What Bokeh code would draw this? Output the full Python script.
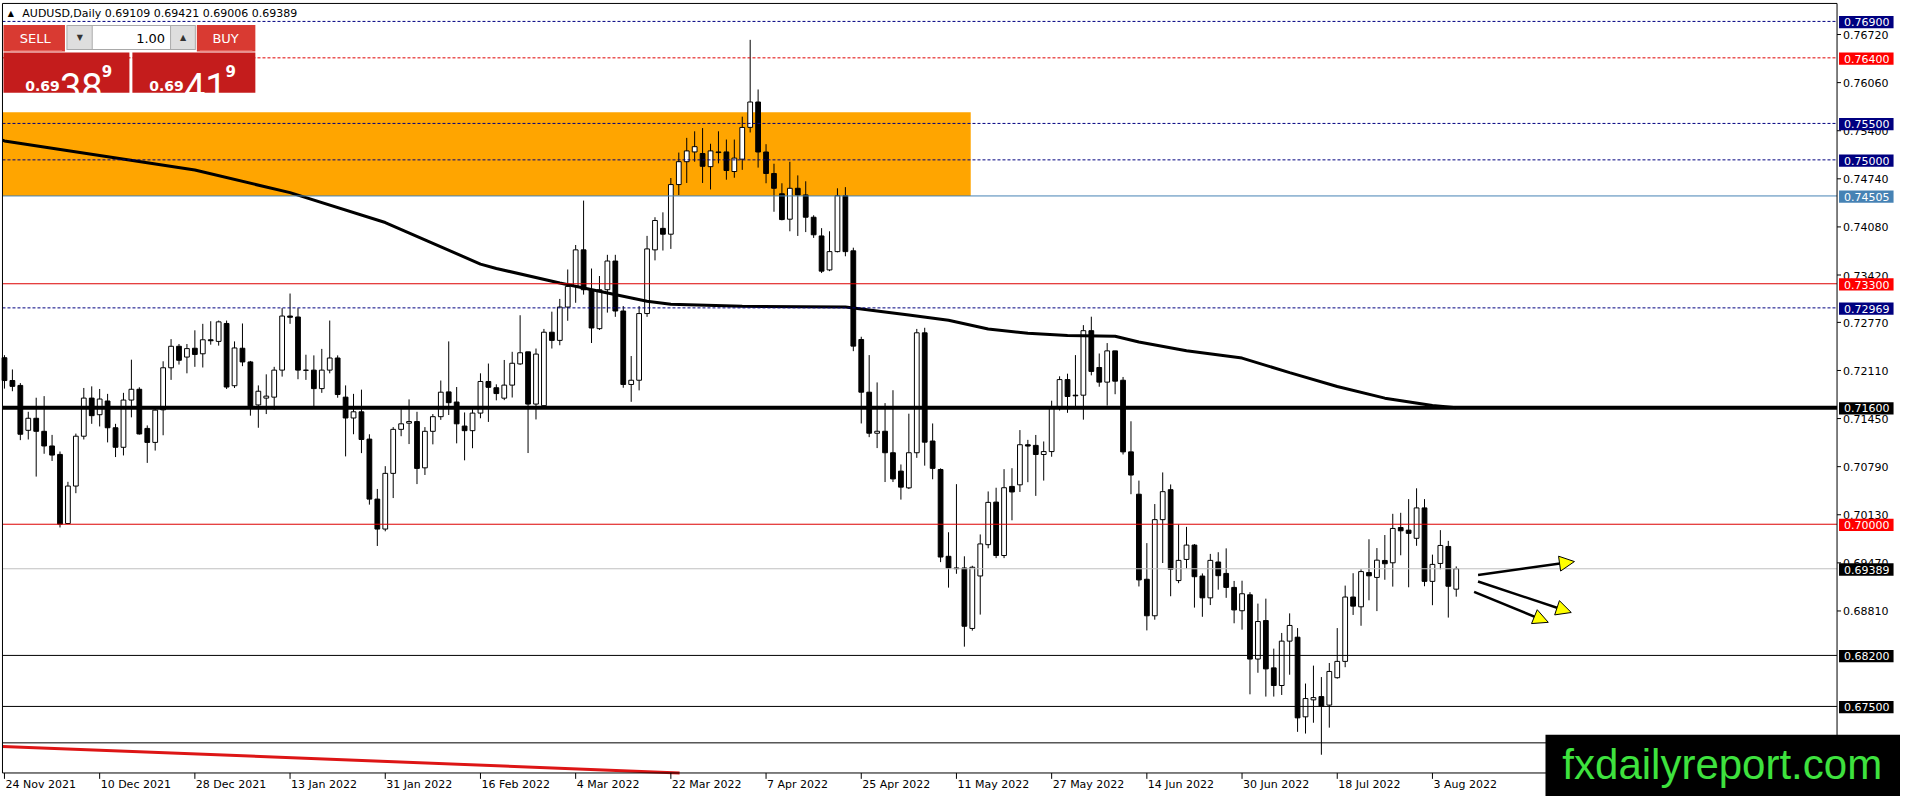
from bokeh.plotting import figure
from bokeh.models import Range1d, Arrow, NormalHead, ColumnDataSource
from bokeh.core.properties import value
from bokeh.embed import file_html
from bokeh.resources import INLINE

# ---------------- data ----------------
header_text = "AUDUSD,Daily 0.69109 0.69421 0.69006 0.69389"

opens = [0.72285,0.71972,0.71905,0.71289,0.71454,0.71275,0.71074,0.70958,0.70010,0.70524,
         0.71208,0.71731,0.71503,0.71691,0.71324,0.71056,0.71704,0.71852,0.71315,0.71123,
         0.71570,0.72147,0.72442,0.72294,0.72415,0.72339,0.72531,0.72509,0.72755,0.71901,
         0.72415,0.72227,0.71637,0.71731,0.71744,0.72115,0.72857,0.72844,0.72115,0.72115,
         0.71861,0.72115,0.72281,0.71744,0.71458,0.71543,0.71168,0.70345,0.69934,0.70698,
         0.71302,0.71387,0.71409,0.70774,0.71275,0.71476,0.71816,0.71677,0.71347,0.71284,
         0.71525,0.71959,0.71873,0.71730,0.71909,0.72200,0.72366,0.71649,0.71627,0.72635,
         0.72523,0.72980,0.73263,0.73765,0.73218,0.72684,0.73218,0.73612,0.72926,0.71918,
         0.71976,0.72891,0.73765,0.74060,0.73980,0.74661,0.74975,0.75109,0.75087,0.74907,
         0.75109,0.75109,0.74840,0.75010,0.75446,0.75794,0.75108,0.74813,0.74535,0.74186,
         0.74610,0.74519,0.74213,0.73956,0.73490,0.73741,0.74508,0.73752,0.72535,0.71812,
         0.71249,0.71276,0.70981,0.70729,0.70499,0.70981,0.72627,0.71142,0.70751,0.69560,
         0.69400,0.69400,0.68570,0.69290,0.69720,0.70304,0.69571,0.70519,0.70541,0.71091,
         0.71082,0.70957,0.70997,0.71605,0.71985,0.71771,0.71771,0.72656,0.72151,0.71950,
         0.72379,0.71976,0.70993,0.70412,0.69245,0.68744,0.70063,0.70474,0.69227,0.69517,
         0.69714,0.69289,0.68990,0.69482,0.69325,0.69133,0.68813,0.69032,0.68150,0.68678,
         0.68029,0.67787,0.68396,0.68450,0.67357,0.67590,0.67635,0.67518,0.67894,0.68118,
         0.69001,0.68867,0.69337,0.69270,0.69503,0.69471,0.69955,0.69919,0.69807,0.70224,
         0.69216,0.69462,0.69695,0.69109]
highs = [0.72320,0.72124,0.71937,0.71543,0.71736,0.71758,0.71226,0.70998,0.70582,0.71244,
         0.71870,0.71892,0.71856,0.71789,0.71378,0.71803,0.72258,0.71879,0.71356,0.71615,
         0.72236,0.72540,0.72473,0.72473,0.72661,0.72750,0.72786,0.72795,0.72795,0.72509,
         0.72755,0.72241,0.71905,0.72057,0.72160,0.72965,0.73166,0.72965,0.72326,0.72317,
         0.72406,0.72795,0.72317,0.71905,0.71789,0.71847,0.71235,0.70484,0.70797,0.71333,
         0.71579,0.71713,0.71543,0.71333,0.71512,0.71972,0.72509,0.71883,0.71534,0.71579,
         0.72071,0.72205,0.71920,0.72254,0.72366,0.72868,0.72366,0.72411,0.72680,0.72917,
         0.73092,0.73496,0.73832,0.74441,0.73509,0.73406,0.73697,0.73697,0.72994,0.72308,
         0.72994,0.73957,0.74213,0.74280,0.74751,0.75100,0.75302,0.75392,0.75436,0.75221,
         0.75392,0.75279,0.75279,0.75593,0.76647,0.75966,0.75215,0.74947,0.74679,0.74974,
         0.74787,0.74706,0.74240,0.74063,0.74020,0.74610,0.74626,0.73795,0.72573,0.72321,
         0.71946,0.71662,0.71839,0.70820,0.71517,0.72680,0.72696,0.71383,0.70767,0.69890,
         0.70550,0.69560,0.69430,0.69860,0.70450,0.70501,0.70756,0.70769,0.71292,0.71158,
         0.71225,0.71136,0.71695,0.72030,0.72066,0.72321,0.72732,0.72848,0.72343,0.72486,
         0.72379,0.72021,0.71413,0.70599,0.69741,0.70277,0.70711,0.70546,0.69996,0.69964,
         0.69728,0.69325,0.69593,0.69616,0.69669,0.69222,0.69225,0.69068,0.68911,0.68979,
         0.68293,0.68508,0.68777,0.68575,0.67814,0.68060,0.67903,0.68096,0.68575,0.69158,
         0.69328,0.69382,0.69794,0.69673,0.69852,0.70143,0.70157,0.70345,0.70493,0.70345,
         0.69583,0.69919,0.69772,0.69421]
lows = [0.71861,0.71825,0.71154,0.71163,0.70654,0.70967,0.70868,0.69956,0.70001,0.70426,
        0.71163,0.71378,0.71342,0.71123,0.70922,0.70944,0.71467,0.71230,0.70842,0.71011,
        0.71221,0.71981,0.72191,0.72071,0.72160,0.72151,0.72464,0.72451,0.71856,0.71870,
        0.72169,0.71490,0.71324,0.71512,0.71570,0.72026,0.72750,0.71990,0.71981,0.71622,
        0.71803,0.72071,0.71736,0.70931,0.71235,0.70976,0.70269,0.69702,0.69903,0.70359,
        0.71208,0.71100,0.70551,0.70676,0.71096,0.71432,0.71499,0.71110,0.70877,0.71043,
        0.71454,0.71404,0.71700,0.71703,0.71739,0.72187,0.70977,0.71438,0.71627,0.72411,
        0.72456,0.72792,0.73039,0.73151,0.72487,0.72666,0.72904,0.72846,0.71873,0.71680,
        0.71837,0.72846,0.73621,0.73756,0.73778,0.74518,0.74683,0.74975,0.74683,0.74594,
        0.74952,0.74728,0.74755,0.74863,0.75376,0.74894,0.74679,0.74288,0.74170,0.74020,
        0.73956,0.74009,0.73929,0.73447,0.73473,0.73731,0.73677,0.72375,0.71383,0.71195,
        0.71045,0.70579,0.70579,0.70338,0.70483,0.70911,0.70804,0.70617,0.69480,0.69130,
        0.69320,0.68320,0.68540,0.68760,0.69670,0.69535,0.69535,0.70054,0.70443,0.70577,
        0.70389,0.70599,0.70926,0.71561,0.71529,0.71605,0.71435,0.72043,0.71887,0.71628,
        0.71784,0.70957,0.70412,0.69146,0.68543,0.68690,0.69468,0.69012,0.69191,0.69392,
        0.68856,0.68730,0.68891,0.69102,0.68990,0.68641,0.68553,0.67666,0.67962,0.67635,
        0.67635,0.67657,0.67935,0.67151,0.67128,0.67276,0.66837,0.67209,0.67881,0.68038,
        0.68755,0.68607,0.68956,0.68808,0.69238,0.69144,0.69574,0.69135,0.69704,0.69149,
        0.68889,0.69382,0.68719,0.69006]
closes = [0.71972,0.71892,0.71235,0.71454,0.71275,0.71074,0.70949,0.70001,0.70524,0.71208,
          0.71731,0.71490,0.71718,0.71324,0.71056,0.71704,0.71852,0.71239,0.71123,0.71566,
          0.72147,0.72442,0.72250,0.72410,0.72330,0.72531,0.72518,0.72777,0.71883,0.72419,
          0.72227,0.71624,0.71825,0.71758,0.72115,0.72857,0.72840,0.72115,0.72112,0.71861,
          0.72115,0.72281,0.71780,0.71458,0.71543,0.71163,0.70345,0.69934,0.70698,0.71302,
          0.71378,0.71409,0.70766,0.71275,0.71476,0.71812,0.71668,0.71378,0.71284,0.71525,
          0.71959,0.71879,0.71793,0.71909,0.72209,0.72353,0.71649,0.72335,0.72635,0.72523,
          0.72980,0.73263,0.73765,0.73218,0.72693,0.73218,0.73612,0.72926,0.71918,0.71976,
          0.72891,0.73778,0.74168,0.73980,0.74661,0.74975,0.75123,0.75181,0.74912,0.75123,
          0.75100,0.74854,0.75024,0.75445,0.75794,0.75108,0.74813,0.74610,0.74181,0.74610,
          0.74519,0.74213,0.73972,0.73473,0.73741,0.74508,0.73741,0.72444,0.71812,0.71249,
          0.71276,0.70981,0.70622,0.70509,0.70981,0.72627,0.71126,0.70767,0.69550,0.69400,
          0.69390,0.68600,0.69410,0.69730,0.70300,0.69571,0.70501,0.70443,0.71091,0.71073,
          0.70957,0.70997,0.71605,0.71985,0.71753,0.71762,0.72656,0.72097,0.71950,0.72379,
          0.71963,0.70993,0.70675,0.69236,0.68744,0.70063,0.70447,0.69383,0.69504,0.69714,
          0.69280,0.68990,0.69504,0.69294,0.69133,0.68824,0.69046,0.68150,0.68665,0.68015,
          0.67787,0.68396,0.68611,0.67343,0.67608,0.67621,0.67500,0.67980,0.68118,0.69001,
          0.68876,0.69350,0.69292,0.69507,0.69458,0.69942,0.69910,0.69875,0.70224,0.69216,
          0.69449,0.69709,0.69149,0.69389]

date_labels = ["24 Nov 2021", "10 Dec 2021", "28 Dec 2021", "13 Jan 2022", "31 Jan 2022",
               "16 Feb 2022", "4 Mar 2022", "22 Mar 2022", "7 Apr 2022", "25 Apr 2022",
               "11 May 2022", "27 May 2022", "14 Jun 2022", "30 Jun 2022", "18 Jul 2022",
               "3 Aug 2022"]
date_tick_bars = [0, 12, 24, 36, 48, 60, 72, 84, 96, 108, 120, 132, 144, 156, 168, 180]

price_ticks = [0.76720, 0.76060, 0.75400, 0.74740, 0.74080, 0.73420, 0.72770, 0.72110,
               0.71450, 0.70790, 0.70130, 0.69470, 0.68810]

ma_bars = [-0.25, 0, 12, 24, 36, 48, 60, 62, 70, 81, 84, 93, 106, 114, 119, 124, 129, 134,
           140, 143, 149, 156, 162, 168, 174, 180, 183]
ma_values = [0.7527, 0.7526, 0.7506, 0.7486, 0.7455, 0.7414, 0.7357, 0.7351, 0.7331, 0.7306,
             0.7302, 0.7299, 0.7298, 0.7287, 0.7280, 0.7268, 0.7262, 0.7259, 0.7258, 0.7250,
             0.7238, 0.7228, 0.7208, 0.7189, 0.7173, 0.7163, 0.7160]

trend_bars = [-0.25, 85.1]
trend_values = [0.66951, 0.66587]

zone_bars = [-0.25, 121.8]
zone_prices = [0.74505, 0.75655]

level_values = [0.76900, 0.76400, 0.75500, 0.75000, 0.74505, 0.73300, 0.72969,
                0.71600, 0.70000, 0.69389, 0.68200, 0.67500, 0.67000]
level_kinds = ["navy", "reddash", "navy", "navy", "steel", "red", "navy",
               "thick", "red", "bid", "black", "black", "black"]

arrow_x0 = [185.75, 185.75, 185.25]
arrow_y0 = [0.69304, 0.69214, 0.69071]
arrow_x1 = [197.9, 197.5, 194.6]
arrow_y1 = [0.69488, 0.68789, 0.68654]

sell_quote = ["0.69", "38", "9"]
buy_quote = ["0.69", "41", "9"]
lot_size = "1.00"
watermark = "fxdailyreport.com"

# ---------------- geometry helpers (reference pixels -> data) ----------------
def bx(px):
    return (px - 4.0) / 8.0

def py(pyx):
    return 0.764 - (pyx - 58.5) * 0.00013452

PX = 0.00013452        # price per reference pixel
AX = 1852              # reference x of the price axis
BOT = 788              # reference y of the time axis

p = figure(width=1900, height=796,
           x_range=Range1d(bx(0), bx(1916)), y_range=Range1d(py(812), py(0)),
           output_backend="svg", toolbar_location=None,
           x_axis_location=None, y_axis_location=None, min_border=0,
           background_fill_color="white", border_fill_color="white")
p.outline_line_color = None
p.grid.visible = False

FONT = "DejaVu Sans"

def seg(x0, y0, x1, y1, color="black", width=1, dash="solid"):
    p.segment(x0=x0, y0=y0, x1=x1, y1=y1, line_color=color, line_width=width, line_dash=dash)

def txt(x, y, s, size, color="black", align="left", baseline="middle", font=FONT, style="normal"):
    p.text(x=[bx(x)], y=[py(y)], text=[s], text_font=value(font), text_font_size=value(size),
           text_color=color, text_align=align, text_baseline=baseline, text_font_style=style)

# orange zone
p.quad(left=[zone_bars[0]], right=[zone_bars[1]], bottom=[zone_prices[0]], top=[zone_prices[1]],
       fill_color="#ffa500", line_color=None)

# candles
xs = list(range(len(opens)))
bull = [c > o for o, c in zip(opens, closes)]
src = ColumnDataSource(dict(
    x=xs, high=highs, low=lows,
    top=[max(o, c) for o, c in zip(opens, closes)],
    bottom=[min(o, c) for o, c in zip(opens, closes)],
    fill=["white" if b else "black" for b in bull]))
p.segment(x0="x", y0="high", x1="x", y1="low", source=src, line_color="black", line_width=1)
p.vbar(x="x", width=0.6, top="top", bottom="bottom", source=src,
       fill_color="fill", line_color="black", line_width=1)

# moving average and trend line
p.line(ma_bars, ma_values, line_color="black", line_width=3)
p.line(trend_bars, trend_values, line_color="#dd1515", line_width=3)

# horizontal levels
styles = {
    "navy": dict(color="#000080", width=1, dash="3 2"),
    "reddash": dict(color="#e00000", width=1, dash="3 2"),
    "steel": dict(color="#4682b4", width=1, dash="solid"),
    "red": dict(color="#dd0000", width=1, dash="solid"),
    "thick": dict(color="black", width=4, dash="solid"),
    "bid": dict(color="#c0c0c0", width=1, dash="solid"),
    "black": dict(color="black", width=1, dash="solid"),
}
box_colors = {"navy": "#000080", "reddash": "#ff0000", "steel": "#4682b4", "red": "#ff0000",
              "thick": "black", "bid": "black", "black": "black"}
for lv, kind in zip(level_values, level_kinds):
    st = styles[kind]
    seg([bx(2)], [lv], [bx(AX)], [lv], st["color"], st["width"], st["dash"])

# arrows
asrc = ColumnDataSource(dict(x0=arrow_x0, y0=arrow_y0, x1=arrow_x1, y1=arrow_y1))
p.add_layout(Arrow(x_start="x0", y_start="y0", x_end="x1", y_end="y1", source=asrc,
                   line_color="black", line_width=2.5,
                   end=NormalHead(size=15, fill_color="#ffff00", line_color="black",
                                  line_width=1)))

# trading panel
panel = [
    (3, 25, 65, 52, "#d93a32"),
    (198, 25, 257, 52, "#d93a32"),
    (66.5, 25, 197, 50.5, "#a9a9a9"),
    (67.5, 26, 92, 49.5, "#dedede"),
    (93, 26, 171, 49.5, "#ffffff"),
    (172, 26, 196, 49.5, "#dedede"),
    (3, 53, 130, 94, "#c41c1c"),
    (133, 53, 257, 94, "#c41c1c"),
    (10, 51, 62, 52, "#f08a84"),
    (201, 51, 254, 52, "#f08a84"),
]
p.quad(left=[bx(a[0]) for a in panel], right=[bx(a[2]) for a in panel],
       top=[py(a[1]) for a in panel], bottom=[py(a[3]) for a in panel],
       fill_color=[a[4] for a in panel], line_color=None)

txt(35, 39, "SELL", "13px", "white", "center")
txt(227, 39, "BUY", "13px", "white", "center")
txt(80, 38, "\u25bc", "8px", "#333333", "center")
txt(184, 38, "\u25b2", "8px", "#333333", "center")
txt(166, 38.5, lot_size, "13px", "black", "right")
for x0, q in ((25, sell_quote), (150, buy_quote)):
    txt(x0, 87, q[0], "14px", "white", "left", "alphabetic", style="bold")
    txt(x0 + 35, 88, q[1], "38px", "white", "left", "alphabetic", font="Roboto")
    txt(x0 + 77, 72, q[2], "15px", "white", "left", "alphabetic", style="bold")

txt(10.5, 13, "\u25b2", "8px", "black", "center")
txt(22, 13.5, header_text, "11px", "black", "left")

# frame and axes (terminal style)
seg([bx(2), bx(2), bx(AX), bx(2)], [py(3), py(3), py(3), py(BOT)],
    [bx(2), bx(AX), bx(AX), bx(AX)], [py(BOT), py(3), py(BOT), py(BOT)])
seg([bx(AX)] * len(price_ticks), price_ticks, [bx(AX + 4)] * len(price_ticks), price_ticks)
p.text(x=[bx(AX + 6)] * len(price_ticks), y=[t - 0.5 * PX for t in price_ticks],
       text=["%.5f" % t for t in price_ticks], text_font=value(FONT),
       text_font_size=value("11px"), text_color="black", text_align="left",
       text_baseline="middle")
seg(date_tick_bars, [py(BOT)] * len(date_tick_bars), date_tick_bars,
    [py(BOT + 6)] * len(date_tick_bars))
p.text(x=[b + bx(5) for b in date_tick_bars], y=[py(BOT + 11.5)] * len(date_tick_bars),
       text=date_labels, text_font=value(FONT), text_font_size=value("11px"),
       text_color="black", text_align="left", text_baseline="middle")

# price labels on the axis
lab_levels = level_values[:-1]
lab_kinds = level_kinds[:-1]
p.quad(left=[bx(AX + 2)] * len(lab_levels), right=[bx(1909)] * len(lab_levels),
       top=[lv + 5.5 * PX for lv in lab_levels], bottom=[lv - 7.0 * PX for lv in lab_levels],
       fill_color=[box_colors[k] for k in lab_kinds], line_color=None)
p.text(x=[bx(AX + 7)] * len(lab_levels), y=[lv - 0.8 * PX for lv in lab_levels],
       text=["%.5f" % lv for lv in lab_levels], text_font=value(FONT),
       text_font_size=value("11px"), text_color="white", text_align="left",
       text_baseline="middle")

# watermark
p.quad(left=[bx(1558)], right=[bx(1920)], top=[py(749)], bottom=[py(816)],
       fill_color="black", line_color=None)
p.text(x=[bx(1575)], y=[py(779)], text=[watermark], text_font=value("Liberation Sans"),
       text_font_size=value("42px"), text_color="#3ee23e", text_align="left",
       text_baseline="middle")

open("out.html", "w").write(file_html(p, INLINE))
